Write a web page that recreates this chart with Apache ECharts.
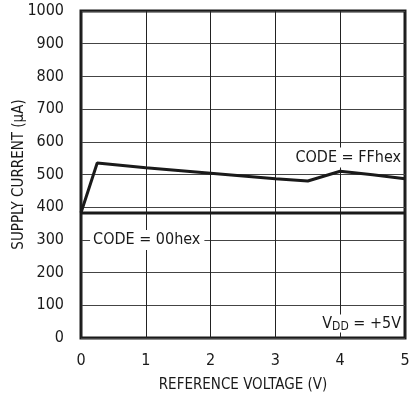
<!DOCTYPE html>
<html>
<head>
    <meta charset="utf-8">
    <script src="https://cdn.jsdelivr.net/npm/echarts@6/dist/echarts.min.js"></script>
    <title>Supply Current vs Reference Voltage</title>
</head>
<style>
    html,
    body {
        margin: 0;
        padding: 0;
        width: 100%;
        height: 100%;
        overflow: hidden;
        background: #fff;
    }
    .my-chart {
        width: 412px;
        height: 401px;
    }
</style>
<body>
<div class="my-chart"></div>
<script type="text/javascript">
    // values
    var xTicks = [0, 1, 2, 3, 4, 5];
    var yTicks = [0, 100, 200, 300, 400, 500, 600, 700, 800, 900, 1000];
    var ffVoltage = [0, 0.25, 1, 2, 3, 3.5, 4, 4.5, 5];
    var ffCurrent = [383, 535, 521, 504, 487, 480, 510, 499, 487];
    var zeroVoltage = [0, 5];
    var zeroCurrent = [382, 382];

    var font = '"Liberation Sans Narrow", "DejaVu Sans Condensed", sans-serif';
    var ink = '#1a1a1a';

    function pairs(xs, ys) {
        return xs.map(function (x, i) { return [x, ys[i]]; });
    }

    var myChart = echarts.init(document.querySelector('.my-chart'));
    var option = {
        backgroundColor: '#fff',
        animation: false,
        textStyle: {fontFamily: font},
        grid: {
            left: 81, right: 7, top: 11, bottom: 63,
            outerBoundsMode: 'none',
            containLabel: false,
            show: true, borderColor: ink, borderWidth: 3, backgroundColor: 'transparent'
        },
        xAxis: {
            type: 'value',
            min: xTicks[0], max: xTicks[xTicks.length - 1], interval: 1,
            name: 'REFERENCE VOLTAGE (V)',
            nameLocation: 'middle', nameGap: 40,
            nameMoveOverlap: false,
            nameTextStyle: {fontSize: 15, color: ink, fontFamily: font},
            axisLine: {show: false},
            axisTick: {show: false},
            axisLabel: {fontSize: 16, color: ink, margin: 15, fontFamily: font},
            splitLine: {lineStyle: {color: '#222', width: 1}}
        },
        yAxis: {
            type: 'value',
            min: yTicks[0], max: yTicks[yTicks.length - 1], interval: 100,
            name: 'SUPPLY CURRENT (\u00b5A)',
            nameLocation: 'middle', nameGap: 54,
            nameMoveOverlap: false,
            nameTextStyle: {fontSize: 15, color: ink, fontFamily: font},
            axisLine: {show: false},
            axisTick: {show: false},
            axisLabel: {
                fontSize: 16, color: ink, margin: 17, fontFamily: font,
                formatter: function (v) { return String(v); }
            },
            splitLine: {lineStyle: {color: '#444', width: 1}}
        },
        series: [
            {
                name: 'CODE = FFhex',
                type: 'line',
                data: pairs(ffVoltage, ffCurrent),
                symbol: 'none',
                lineStyle: {color: ink, width: 3},
                z: 5,
                markPoint: {
                    symbol: 'circle', symbolSize: 0,
                    silent: true,
                    label: {
                        show: true, position: 'left', distance: 3,
                        fontSize: 16, color: ink, fontFamily: font,
                        backgroundColor: '#fff', padding: [2, 1, 2, 4],
                        formatter: '{b}'
                    },
                    data: [{name: 'CODE = FFhex', coord: [5, 552]}]
                }
            },
            {
                name: 'CODE = 00hex',
                type: 'line',
                data: pairs(zeroVoltage, zeroCurrent),
                symbol: 'none',
                lineStyle: {color: ink, width: 3},
                z: 4,
                markPoint: {
                    symbol: 'circle', symbolSize: 0,
                    silent: true,
                    label: {
                        show: true, position: 'right', distance: 0,
                        fontSize: 16, color: ink, fontFamily: font,
                        backgroundColor: '#fff', padding: [2, 4, 2, 3],
                        formatter: '{b}'
                    },
                    data: [{name: 'CODE = 00hex', coord: [0.14, 300]}]
                }
            },
            {
                // conditions note, bottom right corner
                type: 'line',
                data: [],
                markPoint: {
                    symbol: 'circle', symbolSize: 0,
                    silent: true,
                    label: {
                        show: true, position: 'left', distance: 3,
                        backgroundColor: '#fff', padding: [0, 1, 0, 3],
                        formatter: '{v|V}{s|DD}{v| = +5V}',
                        rich: {
                            v: {fontSize: 16, color: ink, fontFamily: font, lineHeight: 18},
                            s: {fontSize: 12, color: ink, fontFamily: font, verticalAlign: 'bottom', lineHeight: 8, padding: [8, 0, 0, 0]}
                        }
                    },
                    data: [{coord: [5, 44]}]
                }
            }
        ]
    };
    myChart.setOption(option);
</script>
</body>
</html>
